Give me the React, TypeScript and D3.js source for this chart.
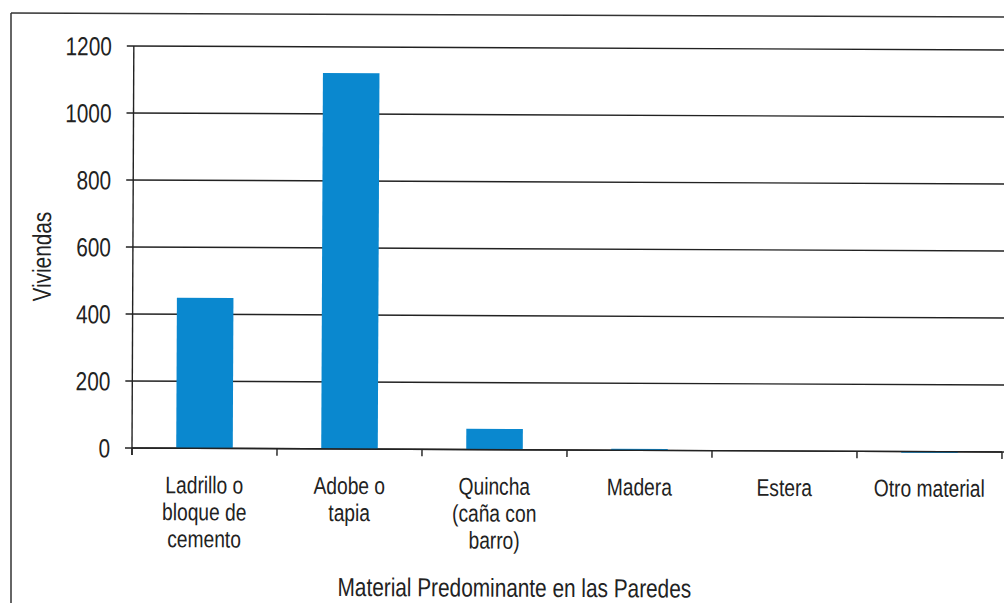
import React from "react";
import * as d3 from "d3";

const W = 1004;
const H = 603;
const MARGIN = { LEFT: 132, RIGHT: 2, TOP: 46, BOTTOM: 155 };

const categories = [
  ["Ladrillo o", "bloque de", "cemento"],
  ["Adobe o", "tapia"],
  ["Quincha", "(caña con", "barro)"],
  ["Madera"],
  ["Estera"],
  ["Otro material"],
];
const viviendas = [449, 1122, 62, 4, 0, 1];
const yTicks = [0, 200, 400, 600, 800, 1000, 1200];

const FONT = "'Liberation Sans', Arial, sans-serif";
const BAR = "#0a88cf";
const SX = 0.8; // the scan's lettering is narrow

const App: React.FC = () => {
  const ids = categories.map((_, i) => String(i));
  const x = d3
    .scaleBand<string>()
    .domain(ids)
    .range([MARGIN.LEFT, W - MARGIN.RIGHT])
    .padding(0);
  const y = d3
    .scaleLinear()
    .domain([0, 1200])
    .range([H - MARGIN.BOTTOM, MARGIN.TOP]);

  const barW = x.bandwidth() * 0.39;
  const bounds = [...ids.map((id) => x(id)!), W - MARGIN.RIGHT];
  const y0 = y(0);

  return (
    <svg
      width={W}
      height={H}
      style={{ position: "absolute", left: 0, top: 0, background: "#fff" }}
      fontFamily={FONT}
    >
      {/* page frame */}
      <line x1={11} y1={13} x2={W} y2={17} stroke="#333" strokeWidth={1.5} />
      <line x1={11} y1={13} x2={11} y2={H} stroke="#333" strokeWidth={1.5} />

      <g transform={`rotate(0.26, ${MARGIN.LEFT}, ${y0})`}>
        {/* gridlines */}
        {yTicks.map((t) => (
          <line
            key={"g" + t}
            x1={MARGIN.LEFT - 7}
            x2={W}
            y1={y(t)}
            y2={y(t)}
            stroke="#222"
            strokeWidth={1.4}
          />
        ))}

        {/* bars */}
        {viviendas.map((v, i) => {
          const cx = x(ids[i])! + x.bandwidth() / 2;
          return (
            <rect
              key={"b" + i}
              x={cx - barW / 2}
              y={y(v)}
              width={barW}
              height={Math.max(y0 - y(v), v > 0 ? 1.5 : 0)}
              fill={BAR}
            />
          );
        })}

        {/* axes */}
        <line x1={MARGIN.LEFT} x2={MARGIN.LEFT} y1={y(1200)} y2={y0 + 7} stroke="#222" strokeWidth={1.4} />
        <line x1={MARGIN.LEFT} x2={W - MARGIN.RIGHT} y1={y0} y2={y0} stroke="#222" strokeWidth={1.4} />
        {bounds.map((bx, i) => (
          <line key={"xt" + i} x1={bx} x2={bx} y1={y0} y2={y0 + 7} stroke="#222" strokeWidth={1.4} />
        ))}

        {/* y tick labels */}
        {yTicks.map((t) => (
          <text
            key={"yl" + t}
            transform={`translate(${MARGIN.LEFT - 22}, ${y(t) + 9.5}) scale(${SX}, 1)`}
            textAnchor="end"
            fontSize={26}
            fill="#222"
          >
            {t}
          </text>
        ))}

        {/* category labels */}
        {categories.map((lines, i) => {
          const cx = x(ids[i])! + x.bandwidth() / 2;
          return (
            <text
              key={"c" + i}
              transform={`translate(${cx}, ${y0 + 45}) scale(${SX}, 1)`}
              textAnchor="middle"
              fontSize={24}
              fill="#222"
            >
              {lines.map((l, j) => (
                <tspan key={j} x={0} dy={j === 0 ? 0 : 27}>
                  {l}
                </tspan>
              ))}
            </text>
          );
        })}

        {/* axis titles */}
        <text
          transform={`translate(515, ${H - 8}) scale(${SX}, 1)`}
          textAnchor="middle"
          fontSize={26}
          fill="#222"
        >
          Material Predominante en las Paredes
        </text>
        <text
          transform={`translate(50, 257) rotate(-90) scale(${SX}, 1)`}
          textAnchor="middle"
          fontSize={26}
          fill="#222"
        >
          Viviendas
        </text>
      </g>
    </svg>
  );
};

export default App;
